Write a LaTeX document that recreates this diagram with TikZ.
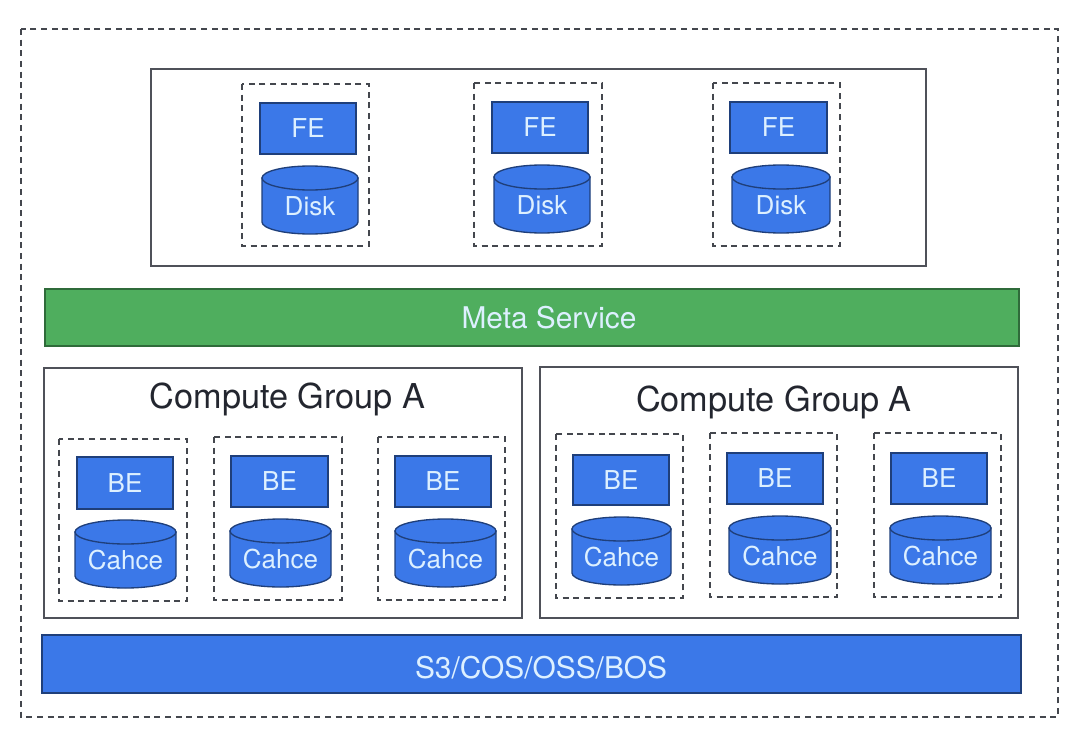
\documentclass[tikz,border=0pt]{standalone}
\usepackage{fontspec}
\setmainfont{TeX Gyre Heros}
\definecolor{bluefill}{HTML}{3B78E8}
\definecolor{blueedge}{HTML}{1F3F7A}
\definecolor{greenfill}{HTML}{4FAE5E}
\definecolor{greenedge}{HTML}{2F6B3A}
\definecolor{inkc}{HTML}{23262F}
\definecolor{softw}{HTML}{DDF0FF}
\tikzset{
  px/.style={x=0.75pt,y=-0.75pt},
  boxc/.style={draw=inkc!80,line width=0.9pt,fill=white},
  dashbox/.style={draw=inkc!85,line width=0.85pt,dash pattern=on 4.5pt off 3.5pt},
  bluebar/.style={draw=blueedge,line width=0.8pt,fill=bluefill},
  greenbar/.style={draw=greenedge,line width=0.8pt,fill=greenfill},
  cyl/.style={draw=blueedge,line width=1pt,fill=bluefill},
  lab/.style={text=softw,font=\fontsize{19.5}{21}\selectfont,inner sep=0pt},
  barlab/.style={text=softw,font=\fontsize{22.4}{25}\selectfont,inner sep=0pt},
  title/.style={text=inkc,font=\fontsize{25.7}{30}\selectfont,inner sep=0pt},
}
% name, dashed x0 y0 x1 y1, rect x0 y0, cyl x0 y0 ; then rect x1 y1, cyl x1 y1, labels
\newcommand{\workunit}[9]{%
  \path[dashbox] (#2,#3) rectangle (#4,#5);
  \def\rx{#6}\def\ry{#7}\def\cx{#8}\def\cy{#9}%
  \workunitB{#1}}
\newcommand{\workunitB}[1]{\def\un{#1}\workunitC}
\newcommand{\workunitC}[6]{%
  \path[bluebar] (\rx,\ry) rectangle (#1,#2);
  \node[lab] (\un r) at ({(\rx+#1)/2},{(\ry+#2)/2}) {#5};
  \path[cyl] (\cx,\cy+12) -- (\cx,#4-12)
    arc[start angle=180,end angle=0,x radius={(#3-\cx)/2},y radius=12]
    -- (#3,\cy+12) -- cycle;
  \path[cyl] ({(\cx+#3)/2},\cy+12) ellipse[x radius={(#3-\cx)/2},y radius=12];
  \node[lab] (\un c) at ({(\cx+#3)/2},{(\cy+12+#4)/2}) {#6};
}
\begin{document}
\begin{tikzpicture}[px]
\useasboundingbox (0,0) rectangle (1080,735);
\path[fill=white] (0,0) rectangle (1080,735);
\path[dashbox] (21,29) rectangle (1058,717);
\path[boxc] (151,69) rectangle (926,266);
\path[greenbar] (45,289) rectangle (1019,346);
\node[barlab] (meta) at (549,317.5) {Meta Service};
\path[boxc] (44,368) rectangle (522,618);
\path[boxc] (540,367) rectangle (1018,618);
\node[title] (cga) at (287.5,399) {Compute Group A};
\node[title] (cgb) at (774,402) {Compute Group A};
\path[bluebar] (42,635) rectangle (1021,693);
\node[barlab] (store) at (541,667.5) {S3/COS/OSS/BOS};
\workunit{fa}{242}{84}{369}{246}{260}{103}{262}{166}{356}{154}{358}{234}{FE}{Disk}
\workunit{fb}{474}{83}{602}{246}{492}{102}{494}{165}{588}{153}{590}{233}{FE}{Disk}
\workunit{fc}{713}{83}{840}{246}{730}{102}{732}{165}{827}{153}{830}{233}{FE}{Disk}
\workunit{ba}{59}{439}{187}{601}{77}{457}{75}{520}{173}{509}{176}{588}{BE}{Cahce}
\workunit{bb}{214}{437}{342}{600}{231}{456}{230}{519}{328}{507}{331}{587}{BE}{Cahce}
\workunit{bc}{378}{437}{505}{600}{395}{456}{395}{519}{491}{507}{496}{587}{BE}{Cahce}
\workunit{bd}{556}{434}{683}{598}{573}{455}{572}{517}{669}{505}{671}{585}{BE}{Cahce}
\workunit{be}{710}{433}{837}{597}{727}{453}{729}{516}{823}{504}{831}{584}{BE}{Cahce}
\workunit{bf}{874}{433}{1001}{597}{891}{453}{890}{516}{987}{504}{991}{584}{BE}{Cahce}
\end{tikzpicture}
\end{document}
